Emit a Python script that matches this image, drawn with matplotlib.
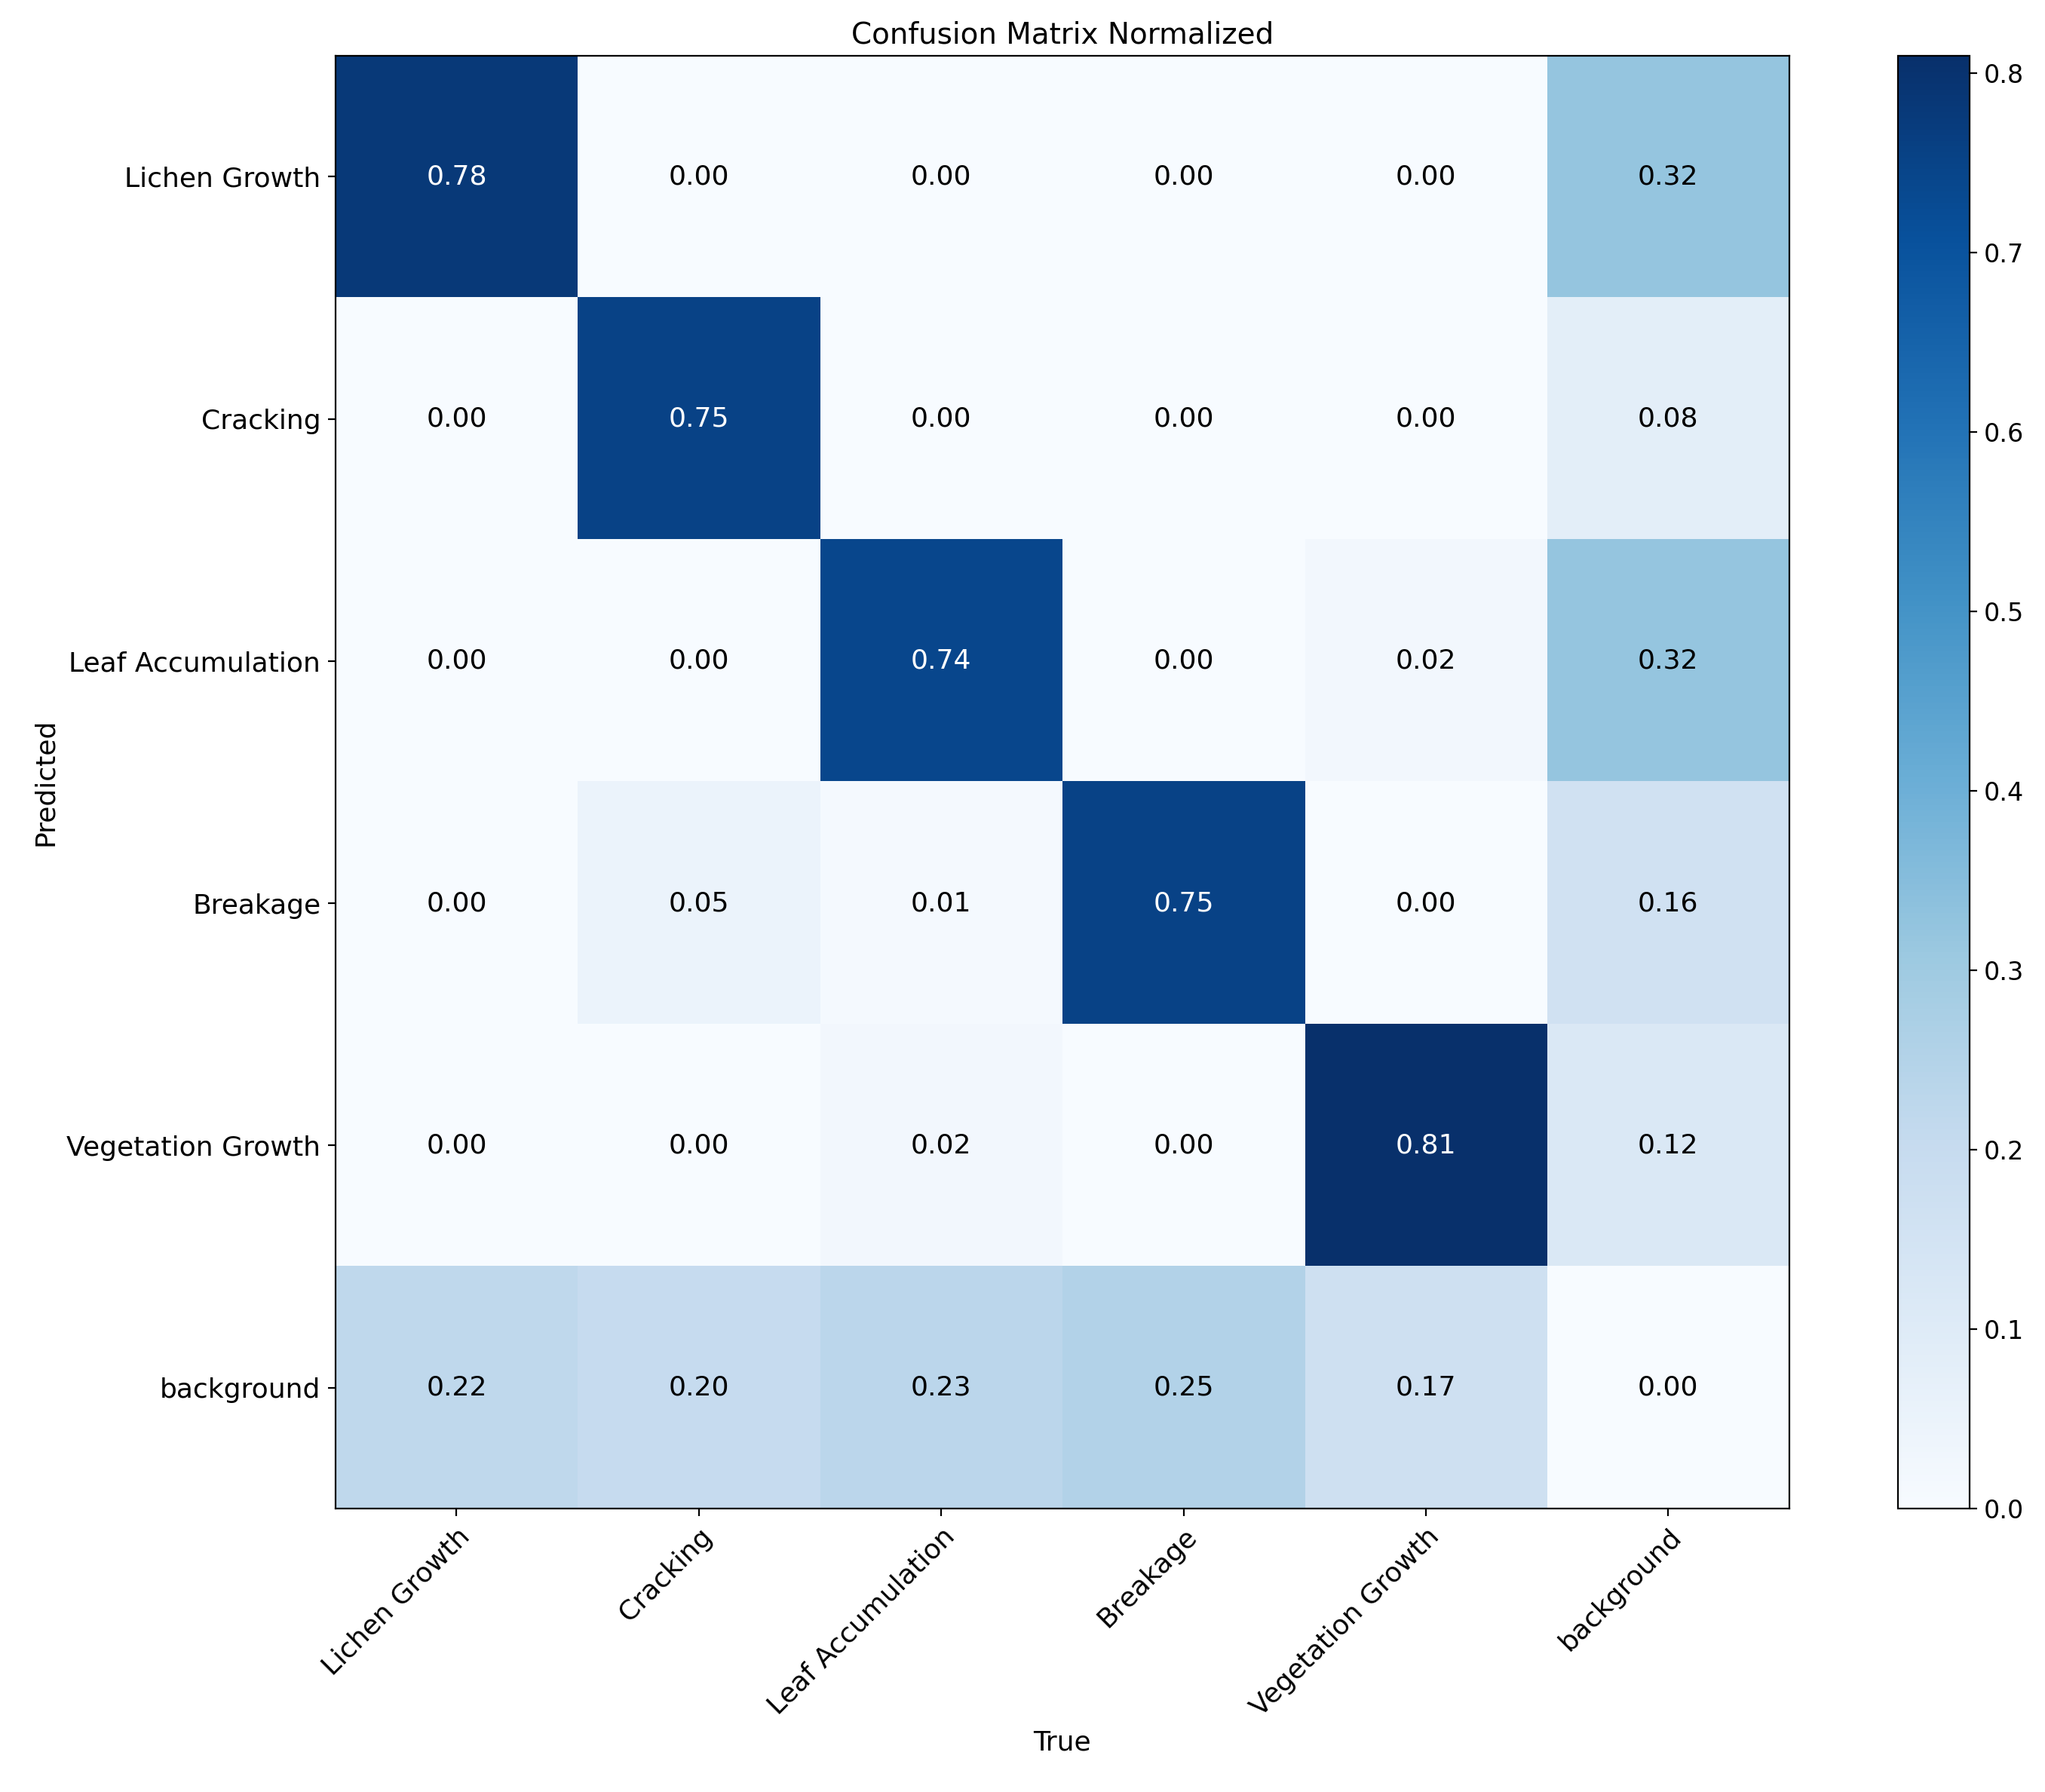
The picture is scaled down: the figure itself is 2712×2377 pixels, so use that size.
import matplotlib
matplotlib.use("Agg")
import matplotlib.pyplot as plt
import numpy as np

labels = ["Lichen Growth", "Cracking", "Leaf Accumulation", "Breakage", "Vegetation Growth", "background"]
row_lichen = [0.78, 0.00, 0.00, 0.00, 0.00, 0.32]
row_cracking = [0.00, 0.75, 0.00, 0.00, 0.00, 0.08]
row_leaf = [0.00, 0.00, 0.74, 0.00, 0.02, 0.32]
row_breakage = [0.00, 0.05, 0.01, 0.75, 0.00, 0.16]
row_veg = [0.00, 0.00, 0.02, 0.00, 0.81, 0.12]
row_bg = [0.22, 0.20, 0.23, 0.25, 0.17, 0.00]
matrix = np.array([row_lichen, row_cracking, row_leaf, row_breakage, row_veg, row_bg])

fig = plt.figure(figsize=(13.56, 11.885), dpi=200)
ax = fig.add_axes([0.164, 0.158, 0.711, 0.811])
cax = fig.add_axes([0.928, 0.158, 0.035, 0.811])
im = ax.imshow(matrix, cmap="Blues", vmin=0, vmax=matrix.max(), aspect="auto")
cb = fig.colorbar(im, cax=cax)
cb.set_ticks(np.arange(0, 0.81, 0.1))
cb.ax.tick_params(labelsize=12)

ax.set_xticks(range(len(labels)))
ax.set_yticks(range(len(labels)))
ax.set_xticklabels(labels, rotation=45, ha="right", rotation_mode="anchor", fontsize=13)
ax.set_yticklabels(labels, fontsize=13)
ax.set_xlabel("True", fontsize=13)
ax.set_ylabel("Predicted", fontsize=13)
ax.set_title("Confusion Matrix Normalized", fontsize=14)

thresh = matrix.max() / 2
for i in range(matrix.shape[0]):
    for j in range(matrix.shape[1]):
        v = matrix[i, j]
        ax.text(j, i, f"{v:.2f}", ha="center", va="center", fontsize=13,
                color="white" if v > thresh else "black")

fig.savefig("out.png", dpi=200)
